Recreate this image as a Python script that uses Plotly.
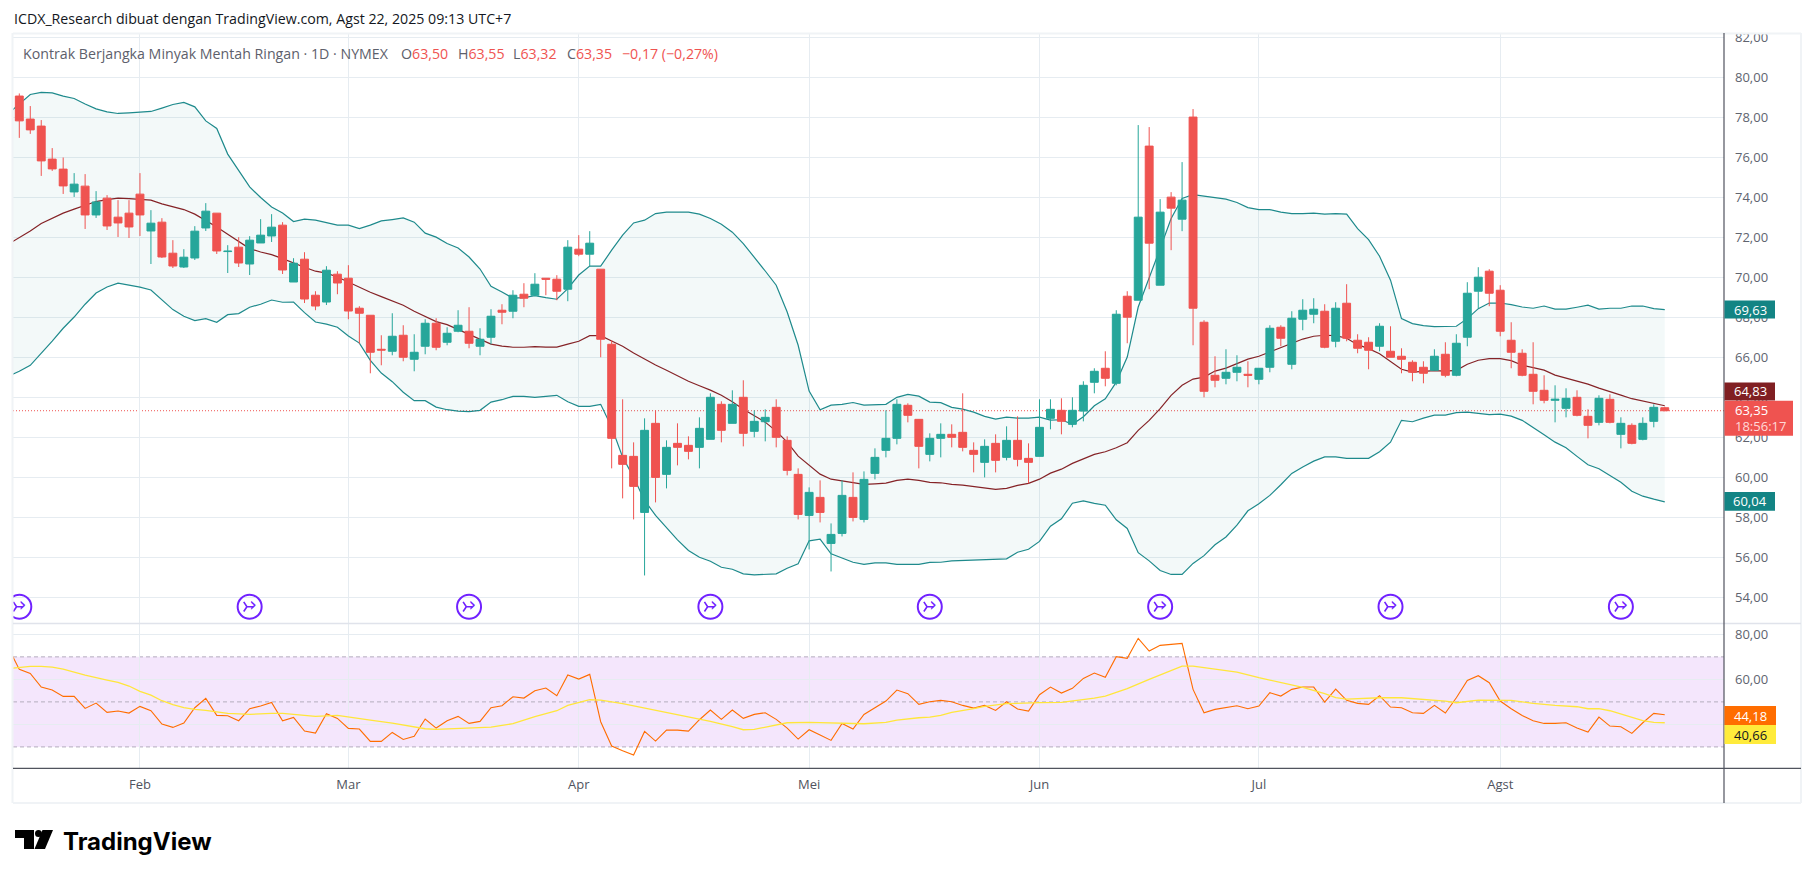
import plotly.graph_objects as go

# ---------- data ----------
bar_index = list(range(151))
opens = [79.07,77.92,77.57,75.92,75.42,74.28,74.57,73.13,73.97,73.02,73.22,74.17,72.33,72.77,71.22,70.53,70.98,72.48,73.22,71.30,
71.52,70.68,71.73,72.08,72.62,69.78,70.92,69.12,68.78,70.17,69.97,68.47,68.12,66.42,66.32,67.12,65.92,66.57,67.72,66.77,
67.32,67.32,66.57,67.02,68.37,68.32,69.17,69.12,69.97,69.92,69.42,71.42,71.17,70.42,66.67,61.12,61.07,58.27,62.72,60.17,
61.72,61.62,61.52,61.92,63.67,62.72,64.02,62.32,62.80,63.52,61.87,60.17,58.12,59.02,56.72,57.22,59.02,57.92,60.22,61.37,
61.97,63.62,62.92,61.17,61.97,62.17,62.27,61.37,60.77,61.72,61.02,61.87,60.97,61.07,62.97,63.37,62.67,63.33,64.77,65.47,
64.72,69.07,68.87,76.57,69.62,74.02,72.92,78.02,67.77,65.12,64.97,65.27,65.17,64.92,65.52,67.52,65.67,67.92,68.17,68.32,
66.82,68.72,66.87,66.77,66.57,66.32,66.07,65.77,65.52,65.37,66.17,65.12,67.02,69.32,70.32,69.37,66.87,66.22,65.17,64.37,
63.87,63.47,64.02,63.07,62.77,63.92,62.17,62.62,61.92,62.82,63.50]
highs = [79.20,78.57,77.87,76.47,76.00,75.22,75.17,74.32,74.12,73.87,73.87,75.22,73.37,72.97,71.87,71.42,72.57,73.72,73.22,71.62,
72.02,72.07,72.92,73.17,72.77,70.97,71.27,69.32,70.57,70.32,70.62,68.57,68.12,67.12,68.22,67.62,67.17,67.92,67.97,67.52,
68.37,68.52,67.47,68.42,68.67,69.37,69.72,70.22,69.97,70.12,71.87,72.12,72.32,70.42,66.87,63.92,61.77,62.97,63.37,61.87,
62.72,62.07,63.02,64.22,63.82,64.37,64.87,63.37,63.42,63.92,62.07,60.47,59.52,59.87,57.72,59.87,60.27,60.32,61.47,63.37,
63.92,63.72,62.92,62.22,62.72,62.67,64.22,61.77,61.92,62.17,62.57,63.07,61.72,63.92,63.92,63.97,64.02,64.82,65.47,66.32,
68.37,69.32,77.62,77.52,73.92,74.27,75.77,78.42,67.87,66.07,66.42,66.12,65.82,65.47,67.62,67.62,68.32,68.92,68.97,68.67,
68.77,69.67,67.17,67.02,67.72,67.57,66.47,65.87,65.82,66.42,66.77,67.17,69.77,70.52,70.42,69.62,67.77,66.42,66.77,65.12,
64.62,64.47,64.37,63.42,64.12,64.17,63.02,62.72,63.02,63.67,63.55]
lows = [76.98,77.18,75.08,75.33,74.18,74.03,72.43,72.98,72.38,72.03,71.98,72.08,70.68,70.98,70.48,70.48,70.88,72.33,71.18,70.23,
70.53,70.13,71.73,71.78,70.18,69.78,68.73,68.37,68.63,69.17,67.92,66.70,65.22,65.62,66.12,65.82,65.32,66.17,66.37,66.62,
67.27,66.47,66.12,66.67,67.67,67.97,68.52,69.08,69.12,68.87,68.82,71.07,70.57,66.02,60.47,58.97,57.92,55.12,58.77,59.47,
60.62,60.92,60.47,61.92,61.77,62.72,61.57,62.02,61.82,61.52,60.12,57.92,56.42,57.77,55.32,57.07,57.82,57.77,59.92,61.02,
61.67,62.77,60.47,60.82,61.02,61.52,61.32,60.27,60.02,60.27,60.87,60.57,59.72,61.07,62.42,62.17,62.52,62.82,64.22,64.57,
64.62,66.72,68.87,69.42,69.62,71.37,72.32,66.62,64.02,64.52,64.67,64.82,64.52,64.67,65.27,66.57,65.42,67.37,67.72,66.47,
66.52,66.82,66.22,65.42,66.32,66.02,65.22,64.82,64.72,65.37,65.02,65.07,66.57,68.47,68.57,67.07,65.47,65.07,63.67,63.72,
62.77,63.02,63.07,61.97,62.62,62.72,61.47,61.67,61.87,62.52,63.32]
closes = [77.83,77.38,75.83,75.43,74.58,74.67,73.13,73.78,72.58,72.73,72.53,73.13,72.72,71.03,70.58,71.02,72.32,73.32,71.33,71.32,
70.73,71.87,72.12,72.52,70.38,70.72,68.93,68.58,70.37,69.73,68.33,68.22,66.27,66.38,67.07,66.02,66.27,67.72,66.52,67.22,
67.62,66.72,66.92,68.07,68.27,69.12,68.97,69.67,69.92,69.32,71.52,71.17,71.72,66.92,61.97,60.67,59.57,62.37,60.02,61.52,
61.52,61.32,62.47,64.02,62.37,63.67,62.22,62.82,63.02,62.02,60.37,58.17,59.27,58.27,57.17,59.12,58.02,59.92,61.02,61.97,
63.67,63.12,61.57,61.97,62.17,62.02,61.52,61.17,61.57,60.87,61.87,60.92,60.77,62.52,63.42,62.82,63.37,64.62,65.32,64.97,
68.17,68.02,73.02,71.72,73.27,73.47,73.87,68.47,64.32,64.87,65.27,65.52,65.12,65.47,67.47,66.97,67.97,68.37,68.42,66.52,
68.47,66.97,66.47,66.37,67.57,66.02,65.92,65.27,65.22,66.07,65.12,66.72,69.22,70.02,69.22,67.32,66.27,65.12,64.32,63.87,
63.92,63.97,63.12,62.62,63.97,62.77,62.72,61.72,62.72,63.52,63.35]

band_index = list(range(-1, 151))
bb_upper = [78.20,78.70,79.15,79.25,79.23,79.07,78.95,78.67,78.43,78.28,78.20,78.23,78.25,78.30,78.47,78.65,78.75,78.53,77.83,77.45,
76.17,75.37,74.53,74.00,73.53,73.23,72.80,72.92,72.87,72.75,72.62,72.62,72.45,72.62,72.83,72.90,72.98,72.77,72.22,72.02,
71.70,71.48,71.03,70.43,69.57,69.28,68.97,69.00,69.10,69.00,68.92,69.45,70.13,70.58,70.57,71.37,72.12,72.73,72.87,73.20,
73.27,73.27,73.27,73.17,72.95,72.67,72.27,71.70,71.03,70.33,69.62,68.28,66.62,64.33,63.40,63.63,63.67,63.76,63.63,63.65,
63.67,64.02,64.17,64.08,63.78,63.75,63.52,63.43,63.28,63.07,62.93,63.03,62.98,62.98,63.03,62.88,62.90,62.67,63.05,63.60,
63.95,64.78,66.03,68.53,69.95,71.45,72.95,73.95,74.15,74.08,73.98,73.92,73.75,73.50,73.40,73.40,73.27,73.20,73.20,73.22,
73.17,73.20,73.17,72.45,71.90,71.07,69.87,67.95,67.70,67.60,67.55,67.55,67.57,67.95,68.45,68.73,68.73,68.65,68.53,68.47,
68.58,68.43,68.43,68.52,68.62,68.43,68.47,68.47,68.58,68.58,68.45,68.40]
bb_basis = [71.67,71.98,72.33,72.70,72.98,73.22,73.42,73.62,73.80,73.90,73.97,73.95,73.92,73.87,73.68,73.53,73.40,73.17,72.87,72.53,
72.17,71.83,71.45,71.28,71.15,70.95,70.72,70.52,70.32,70.22,70.03,69.77,69.52,69.27,69.05,68.85,68.62,68.32,68.05,67.80,
67.65,67.40,67.15,66.92,66.68,66.58,66.52,66.52,66.55,66.53,66.53,66.68,66.82,67.10,67.10,66.83,66.57,66.23,65.92,65.63,
65.37,65.08,64.82,64.60,64.38,64.12,63.80,63.42,63.08,62.78,62.33,61.78,61.08,60.62,60.18,59.93,59.85,59.78,59.67,59.70,
59.73,59.87,59.93,59.87,59.77,59.75,59.67,59.63,59.55,59.47,59.42,59.47,59.62,59.72,59.93,60.23,60.43,60.72,60.95,61.17,
61.30,61.50,61.75,62.37,62.87,63.45,64.12,64.62,64.93,65.03,65.33,65.48,65.70,65.93,66.07,66.28,66.53,66.73,66.93,67.07,
67.12,67.10,66.97,66.65,66.45,66.20,65.83,65.42,65.28,65.33,65.35,65.33,65.37,65.67,65.87,65.95,65.95,65.85,65.62,65.50,
65.38,65.13,64.98,64.83,64.68,64.48,64.32,64.13,63.95,63.83,63.72,63.60]
bb_lower = [65.07,65.32,65.62,66.20,66.83,67.47,68.03,68.67,69.23,69.53,69.72,69.62,69.52,69.38,68.87,68.40,68.07,67.85,67.95,67.77,
68.15,68.20,68.52,68.67,68.88,68.77,68.78,68.25,67.78,67.68,67.52,67.08,66.73,65.87,65.23,64.80,64.27,63.85,63.85,63.53,
63.40,63.33,63.30,63.37,63.78,63.90,64.07,64.07,64.02,64.08,64.12,63.80,63.57,63.57,63.67,62.53,61.03,60.03,58.87,58.12,
57.50,56.90,56.37,56.03,55.83,55.53,55.43,55.20,55.15,55.18,55.20,55.48,55.70,56.85,56.93,56.20,55.98,55.78,55.67,55.75,
55.75,55.67,55.67,55.67,55.77,55.78,55.85,55.87,55.88,55.92,55.92,55.95,56.28,56.43,56.82,57.58,57.95,58.73,58.85,58.72,
58.63,57.90,57.47,56.26,55.85,55.37,55.17,55.17,55.72,56.11,56.65,57.04,57.63,58.35,58.70,59.12,59.65,60.22,60.54,60.83,
61.04,61.04,60.97,60.97,60.97,61.30,61.78,62.87,62.80,62.98,63.13,63.13,63.25,63.28,63.23,63.15,63.18,63.08,62.87,62.53,
62.15,61.78,61.50,61.07,60.65,60.45,60.12,59.78,59.33,59.08,58.93,58.80]

rsi = [74.00,64.44,62.67,56.59,55.26,52.44,52.44,47.11,49.48,45.33,45.93,45.04,48.00,46.07,40.15,38.67,40.59,47.41,51.56,44.00,
43.85,41.63,46.96,48.15,49.78,41.63,43.11,37.04,36.15,44.74,42.67,38.22,37.93,32.44,32.44,36.44,33.33,34.67,42.37,38.37,
41.63,43.56,40.44,41.33,47.41,48.30,52.30,51.70,54.96,56.15,52.74,61.93,60.15,62.22,41.19,30.37,28.30,26.37,36.89,32.59,
37.48,37.48,37.04,42.07,46.37,42.22,46.37,42.67,44.44,45.19,42.22,38.37,33.48,37.63,35.26,32.89,40.44,37.93,44.44,47.56,
50.37,55.26,53.63,48.89,50.07,50.67,50.07,48.44,47.26,48.44,46.22,50.07,46.81,45.93,53.19,56.59,53.93,56.00,60.44,62.81,
60.89,70.07,69.33,78.22,72.59,75.11,75.56,76.00,55.56,45.19,46.67,47.56,48.30,46.96,48.15,54.07,52.59,55.56,56.59,56.59,
49.93,55.70,50.67,49.33,48.89,52.74,47.70,47.41,45.19,44.89,48.44,45.04,51.85,59.56,61.63,58.52,50.37,46.96,44.00,41.63,
40.44,40.44,40.74,38.37,36.59,43.26,39.26,38.96,36.00,40.74,44.89,44.30]

rsi_ma_index = [-1,1,2,3,4,6,8,9,10,11,12,13,14,15,16,17,19,21,23,24,25,27,29,30,32,34,36,37,38,39,41,42,43,45,47,49,50,52,53,55,58,61,63,65,66,67,69,70,72,75,77,79,80,82,83,84,85,87,88,90,92,93,95,96,98,99,101,103,105,106,107,109,111,113,115,117,119,120,121,124,126,127,128,130,131,133,136,138,140,142,143,144,145,147,148,149,150]
rsi_ma = [64.74,65.78,65.78,65.48,64.59,61.93,59.70,58.67,57.04,54.67,53.04,50.52,48.74,47.41,46.67,46.22,44.89,44.44,44.89,44.89,44.44,43.56,44.00,43.41,41.93,40.59,38.81,38.07,37.78,37.93,38.37,38.37,38.81,40.30,43.41,46.07,48.44,50.96,50.81,49.19,46.22,43.41,41.33,38.96,37.63,37.78,39.85,40.74,40.89,40.44,40.30,40.89,41.93,42.96,43.26,44.00,45.33,46.96,47.99,49.19,49.63,49.63,49.78,50.37,51.70,52.59,55.85,59.99,63.85,65.93,65.93,64.59,63.26,60.74,58.52,56.44,53.63,51.85,51.26,51.85,51.85,51.56,51.11,50.37,49.63,50.81,50.67,49.33,48.44,47.85,46.96,46.96,46.07,43.11,41.63,40.89,40.74]

event_index = [0, 21, 41, 63, 83, 104, 125, 146]
event_level = [53.56] * len(event_index)

month_index = [11, 30, 51, 72, 93, 113, 135]
month_labels = ["Feb", "Mar", "Apr", "Mei", "Jun", "Jul", "Agst"]
price_ticks = list(range(54, 84, 2))
rsi_ticks = [40, 60, 80]
rsi_levels = [70, 50, 30]

title_text = "ICDX_Research dibuat dengan TradingView.com, Agst 22, 2025 09:13 UTC+7"
UP, DOWN = "#26A69A", "#EF5350"
TEAL, MAROON = "#1E8A8C", "#852327"
GRID, FRAME, AXIS = "#E6ECF1", "#F0F3F6", "#50535E"
PURPLE = "#7122FF"
FONT = "Open Sans"

W, H = 1814, 878
px = lambda x: x / W
py = lambda y: 1 - y / H

fig = go.Figure()

# Bollinger bands (below the candles)
fig.add_trace(go.Scatter(x=band_index, y=bb_upper, mode="lines", line=dict(color=TEAL, width=1.2), xaxis="x", yaxis="y"))
fig.add_trace(go.Scatter(x=band_index, y=bb_lower, mode="lines", line=dict(color=TEAL, width=1.2), fill="tonexty",
                         fillcolor="rgba(19,132,132,0.05)", xaxis="x", yaxis="y"))
fig.add_trace(go.Scatter(x=band_index, y=bb_basis, mode="lines", line=dict(color=MAROON, width=1.2), xaxis="x", yaxis="y"))

# Candles on an overlaid axis so they sit above the lines
fig.add_trace(go.Candlestick(x=bar_index, open=opens, high=highs, low=lows, close=closes,
                             increasing=dict(line=dict(color=UP, width=1), fillcolor=UP),
                             decreasing=dict(line=dict(color=DOWN, width=1), fillcolor=DOWN),
                             whiskerwidth=0, xaxis="x", yaxis="y3"))

# Event icons
fig.add_trace(go.Scatter(x=event_index, y=event_level, mode="markers",
                         marker=dict(symbol="circle-open", size=24, line=dict(color=PURPLE, width=2), color=PURPLE),
                         xaxis="x", yaxis="y3"))
fig.add_trace(go.Scatter(x=[v - 0.25 for v in event_index], y=event_level, mode="markers",
                         marker=dict(symbol="y-right", size=8, line=dict(color=PURPLE, width=1.6), color=PURPLE),
                         xaxis="x", yaxis="y3"))
fig.add_trace(go.Scatter(x=[v + 0.3 for v in event_index], y=event_level, mode="text", text=["›"] * len(event_index),
                         textfont=dict(color=PURPLE, size=19, family="DejaVu Sans"), xaxis="x", yaxis="y3"))

# RSI pane
fig.add_trace(go.Scatter(x=band_index, y=rsi, mode="lines", line=dict(color="#FF6D00", width=1.1), xaxis="x2", yaxis="y2"))
fig.add_trace(go.Scatter(x=rsi_ma_index, y=rsi_ma, mode="lines", line=dict(color="#FFE63B", width=1.3), xaxis="x2", yaxis="y2"))

xr = [-0.574, 155.4]
main_range = [52.72, 82.17]
rsi_range = [20.5, 84.6]
dom_x = [px(13), px(1724)]

common_x = dict(range=xr, domain=dom_x, type="linear", tickmode="array", tickvals=month_index, showgrid=True,
                gridcolor=GRID, gridwidth=1, zeroline=False, ticks="", showline=False, automargin=False)
fig.update_layout(
    width=W, height=H, autosize=False, margin=dict(l=0, r=0, t=0, b=0, pad=0), showlegend=False,
    paper_bgcolor="white", plot_bgcolor="white", separators=",.", boxgap=0.28, boxgroupgap=0, hovermode=False,
    font=dict(family=FONT, size=13, color="#60646F"),
    xaxis=dict(common_x, anchor="y", showticklabels=False, rangeslider=dict(visible=False)),
    xaxis2=dict(common_x, anchor="y2", showticklabels=True, ticktext=month_labels, ticklabelstandoff=7,
                tickfont=dict(family=FONT, size=13, color="#50535E")),
    yaxis=dict(domain=[py(623.5), py(34)], range=main_range, side="right", anchor="x", tickmode="array", tickvals=price_ticks,
               tickformat=".2f", showgrid=True, gridcolor=GRID, gridwidth=1, zeroline=False, ticks="", ticklabelstandoff=10,
               tickfont=dict(family=FONT, size=13, color="#60646F"), automargin=False),
    yaxis3=dict(overlaying="y", range=main_range, side="right", anchor="x", showticklabels=False, showgrid=False, zeroline=False,
                automargin=False),
    yaxis2=dict(domain=[py(768.3), py(624)], range=rsi_range, side="right", anchor="x2", tickmode="array", tickvals=rsi_ticks,
                tickformat=".2f", showgrid=True, gridcolor=GRID, gridwidth=1, zeroline=False, ticks="", ticklabelstandoff=10,
                tickfont=dict(family=FONT, size=13, color="#60646F"), automargin=False),
)

shapes = []
# RSI band and levels
shapes.append(dict(type="rect", xref="paper", yref="y2", x0=dom_x[0], x1=dom_x[1], y0=rsi_levels[2], y1=rsi_levels[0],
                   fillcolor="rgba(182,88,235,0.15)", line=dict(width=0), layer="below"))
for lv in rsi_levels:
    shapes.append(dict(type="line", xref="paper", yref="y2", x0=dom_x[0], x1=dom_x[1], y0=lv, y1=lv,
                       line=dict(color="#B4ADBE", width=1, dash="4px,3px"), layer="below"))
# last price line
shapes.append(dict(type="line", xref="paper", yref="y", x0=dom_x[0], x1=dom_x[1], y0=closes[-1], y1=closes[-1],
                   line=dict(color=DOWN, width=1, dash="1px,2px"), layer="below"))
# frame, pane separator and axis lines
def hline(y, c, w=1, x0=13, x1=1801):
    shapes.append(dict(type="line", xref="paper", yref="paper", x0=px(x0), x1=px(x1), y0=py(y), y1=py(y), line=dict(color=c, width=w)))
def vline(x, c, w=1, y0=33, y1=803):
    shapes.append(dict(type="line", xref="paper", yref="paper", x0=px(x), x1=px(x), y0=py(y0), y1=py(y1), line=dict(color=c, width=w)))
hline(33.5, FRAME, 2); hline(803, FRAME, 2); vline(12.5, FRAME, 2); vline(1801, FRAME, 2)
hline(623.5, "#E0E3EB", 1.5)
hline(768.3, AXIS, 1.3)
vline(1724, AXIS, 1.2)

# value tags on the axis
tags = [(300.4, 318.6, 1775, "#138484", "69,63", "white"),
        (382.5, 400.4, 1775, "#801F22", "64,83", "white"),
        (492.0, 510.7, 1775, "#138484", "60,04", "white"),
        (706.0, 725.0, 1776, "#FF6D00", "44,18", "white"),
        (725.0, 744.0, 1776, "#FFEB3B", "40,66", "#131722")]
anns = []
for y0, y1, x1, col, txt, tc in tags:
    shapes.append(dict(type="rect", xref="paper", yref="paper", x0=px(1724.5), x1=px(x1), y0=py(y1), y1=py(y0), fillcolor=col, line=dict(width=0)))
    anns.append(dict(xref="paper", yref="paper", x=px(1750), y=py((y0 + y1) / 2), text=txt, showarrow=False,
                     xanchor="center", yanchor="middle", font=dict(family=FONT, size=13, color=tc)))
shapes.append(dict(type="rect", xref="paper", yref="paper", x0=px(1724.5), x1=px(1793), y0=py(435.7), y1=py(400.7), fillcolor=DOWN, line=dict(width=0)))
anns.append(dict(xref="paper", yref="paper", x=px(1733), y=py(409.5), text="63,35", showarrow=False, xanchor="left", yanchor="middle",
                 font=dict(family=FONT, size=13, color="white")))
anns.append(dict(xref="paper", yref="paper", x=px(1733), y=py(426), text="18:56:17", showarrow=False, xanchor="left", yanchor="middle",
                 font=dict(family=FONT, size=13, color="#FFD9D8")))

# header texts
anns.append(dict(xref="paper", yref="paper", x=px(12), y=py(18.5), text=title_text, showarrow=False, xanchor="left", yanchor="middle",
                 font=dict(family=FONT, size=14.2, color="#131722")))
R = lambda s: f'<span style="color:{DOWN}">{s}</span>'
legend_parts = [(21, "Kontrak Berjangka Minyak Mentah Ringan · 1D · NYMEX"),
                (399, "O" + R("63,50")), (456, "H" + R("63,55")), (511, "L" + R("63,32")),
                (565, "C" + R("63,35")), (620, R("−0,17 (−0,27%)"))]
for lx, part in legend_parts:
    anns.append(dict(xref="paper", yref="paper", x=px(lx), y=py(53.5), text=part, showarrow=False, xanchor="left", yanchor="middle",
                     font=dict(family=FONT, size=14.2, color="#5D606B")))

# TradingView logotype
shapes.append(dict(type="path", xref="paper", yref="paper", fillcolor="#000", line=dict(width=0),
                   path=" ".join([f"{c} {px(x)},{py(y)}" for c, x, y in
                                  [("M", 15, 830), ("L", 34, 830), ("L", 34, 849), ("L", 24, 849), ("L", 24, 838), ("L", 15, 838)]]) + " Z"))
shapes.append(dict(type="path", xref="paper", yref="paper", fillcolor="#000", line=dict(width=0),
                   path=" ".join([f"{c} {px(x)},{py(y)}" for c, x, y in
                                  [("M", 42.5, 830), ("L", 53, 830), ("L", 45, 849), ("L", 34.5, 849)]]) + " Z"))
shapes.append(dict(type="circle", xref="paper", yref="paper", x0=px(35), x1=px(42), y0=py(837), y1=py(830), fillcolor="#000", line=dict(width=0)))
anns.append(dict(xref="paper", yref="paper", x=px(61), y=py(841), text="<b>TradingView</b>", showarrow=False, xanchor="left", yanchor="middle",
                 font=dict(family="Inter", size=24, color="#000")))

fig.update_layout(shapes=shapes, annotations=anns)
fig.write_html("out.html", config=dict(displayModeBar=False),
               post_script="document.body.style.margin='0';document.body.style.overflow='hidden';")
